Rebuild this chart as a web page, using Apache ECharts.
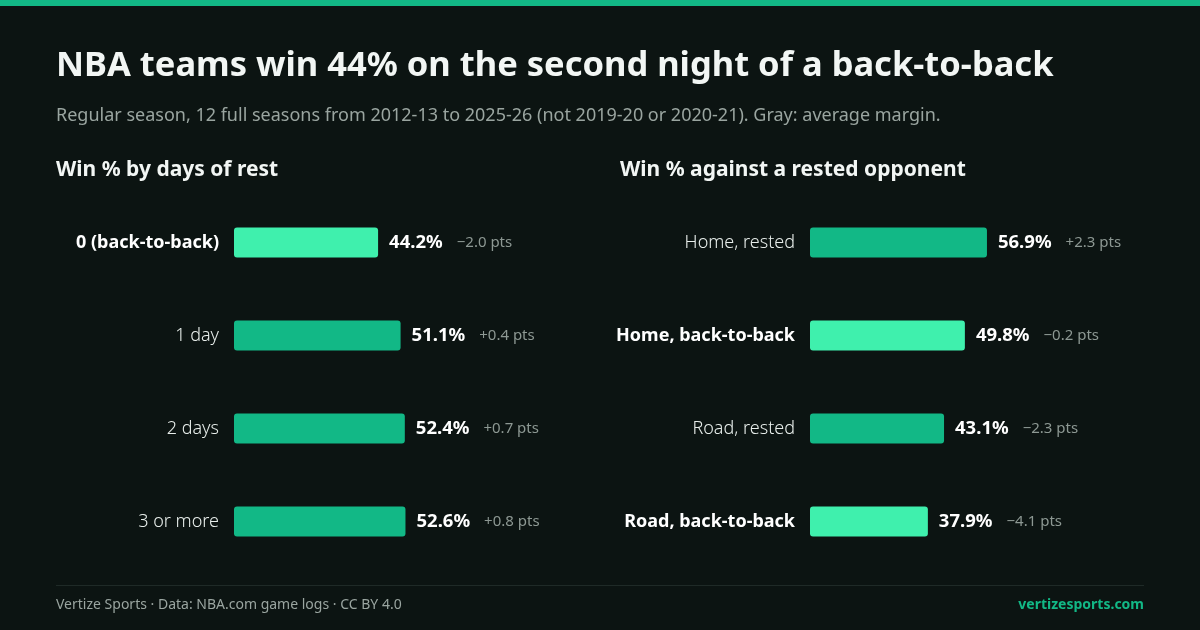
<!DOCTYPE html>
<html><head><meta charset="utf-8">
<script src="https://cdn.jsdelivr.net/npm/echarts@6/dist/echarts.min.js"></script>
<style>html,body{margin:0;padding:0;background:#0c1412;}#c{width:1200px;height:630px;}</style>
</head><body><div id="c"></div>
<script>
// Left panel: win % by days of rest
const restCategories = ['0 (back-to-back)', '1 day', '2 days', '3 or more'];
const restWinPct = [44.2, 51.1, 52.4, 52.6];
const restMargin = ['\u22122.0', '+0.4', '+0.7', '+0.8'];
const restHighlight = [true, false, false, false];

// Right panel: win % against a rested opponent
const oppCategories = ['Home, rested', 'Home, back-to-back', 'Road, rested', 'Road, back-to-back'];
const oppWinPct = [56.9, 49.8, 43.1, 37.9];
const oppMargin = ['+2.3', '\u22120.2', '\u22122.3', '\u22124.1'];
const oppHighlight = [false, true, false, true];

const FONT = '"Noto Sans", "Open Sans", sans-serif';
const BRIGHT = '#3ff0ad';
const NORMAL = '#12b886';

function barData(vals, hl) {
  return vals.map((v, i) => ({ value: v, itemStyle: { color: hl[i] ? BRIGHT : NORMAL, borderRadius: 3 } }));
}
function labelFmt(margins) {
  return p => '{v|' + p.value.toFixed(1) + '%}{d|' + margins[p.dataIndex] + ' pts}';
}
function catLabel(hl) {
  return {
    fontFamily: FONT, fontSize: 18, color: '#e8eeeb', fontWeight: 300, margin: 15,
    formatter: (val, idx) => hl[idx] ? '{b|' + val + '}' : val,
    rich: { b: { fontFamily: FONT, fontSize: 18, fontWeight: 'bold', color: '#ffffff' } }
  };
}
const valueRich = {
  v: { fontFamily: FONT, fontSize: 18.5, fontWeight: 'bold', color: '#ffffff' },
  d: { fontFamily: FONT, fontSize: 15, color: '#8d9893', padding: [0, 0, 0, 14] }
};

const chart = echarts.init(document.getElementById('c'), null, { renderer: 'canvas' });
chart.setOption({
  backgroundColor: '#0c1412',
  animation: false,
  title: [
    { text: 'NBA teams win 44% on the second night of a back-to-back', left: 56, top: 49, padding: 0,
      textStyle: { fontFamily: FONT, fontSize: 34.5, fontWeight: 'bold', color: '#f2f6f4' } },
    { text: 'Regular season, 12 full seasons from 2012-13 to 2025-26 (not 2019-20 or 2020-21). Gray: average margin.',
      left: 56, top: 107, padding: 0, textStyle: { fontFamily: FONT, fontSize: 18, fontWeight: 'normal', color: '#9aa5a0' } },
    { text: 'Win % by days of rest', left: 56, top: 160, padding: 0,
      textStyle: { fontFamily: FONT, fontSize: 21, fontWeight: 'bold', color: '#f2f6f4' } },
    { text: 'Win % against a rested opponent', left: 620, top: 160, padding: 0,
      textStyle: { fontFamily: FONT, fontSize: 21, fontWeight: 'bold', color: '#f2f6f4' } },
    { text: 'Vertize Sports \u00b7 Data: NBA.com game logs \u00b7 CC BY 4.0', left: 56, top: 598, padding: 0,
      textStyle: { fontFamily: FONT, fontSize: 14, fontWeight: 'normal', color: '#9aa5a0' } },
    { text: 'vertizesports.com', right: 56, top: 598, padding: 0,
      textStyle: { fontFamily: FONT, fontSize: 14, fontWeight: 'bold', color: '#12b886' } }
  ],
  graphic: [
    { type: 'rect', left: 0, top: 0, shape: { width: 1200, height: 6 }, style: { fill: '#12b886' } },
    { type: 'rect', left: 56, top: 585, shape: { width: 1088, height: 1 }, style: { fill: '#1f2a27' } }
  ],
  grid: [
    { left: 234, top: 196, width: 326, height: 372 },
    { left: 810, top: 196, width: 311, height: 372 }
  ],
  xAxis: [
    { gridIndex: 0, type: 'value', min: 0, max: 100, show: false },
    { gridIndex: 1, type: 'value', min: 0, max: 100, show: false }
  ],
  yAxis: [
    { gridIndex: 0, type: 'category', data: restCategories, inverse: true,
      axisLine: { show: false }, axisTick: { show: false }, splitLine: { show: false },
      axisLabel: catLabel(restHighlight) },
    { gridIndex: 1, type: 'category', data: oppCategories, inverse: true,
      axisLine: { show: false }, axisTick: { show: false }, splitLine: { show: false },
      axisLabel: catLabel(oppHighlight) }
  ],
  series: [
    { type: 'bar', xAxisIndex: 0, yAxisIndex: 0, barWidth: 30, data: barData(restWinPct, restHighlight),
      label: { show: true, position: 'right', distance: 11, formatter: labelFmt(restMargin), rich: valueRich } },
    { type: 'bar', xAxisIndex: 1, yAxisIndex: 1, barWidth: 30, data: barData(oppWinPct, oppHighlight),
      label: { show: true, position: 'right', distance: 11, formatter: labelFmt(oppMargin), rich: valueRich } }
  ]
});
</script>
</body></html>
